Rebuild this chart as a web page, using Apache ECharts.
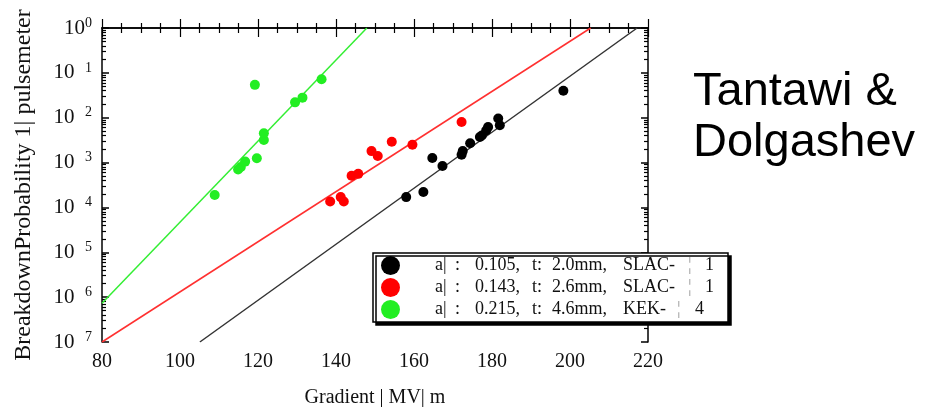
<!DOCTYPE html>
<html>
<head>
<meta charset="utf-8">
<script src="https://cdn.jsdelivr.net/npm/echarts@6/dist/echarts.min.js"></script>
<style>html,body{margin:0;padding:0;background:#fff}#c{width:938px;height:407px}</style>
</head>
<body>
<div id="c"></div>
<script>
// ---- data ----
const seriesNames = [
  'a| : 0.105, t: 2.0mm, SLAC- ¦ 1',
  'a| : 0.143, t: 2.6mm, SLAC- ¦ 1',
  'a| : 0.215, t: 4.6mm, KEK- ¦ 4'
];
const blackPoints = [
  [158.0, 1.7e-4], [162.4, 2.2e-4], [164.7, 1.26e-3], [167.3, 8.4e-4],
  [172.2, 1.5e-3], [172.5, 1.8e-3], [174.4, 2.7e-3], [176.9, 3.7e-3],
  [177.4, 4.0e-3], [178.5, 5.2e-3], [179.0, 6.2e-3], [181.6, 9.6e-3],
  [182.0, 6.8e-3], [198.3, 4.0e-2]
];
const redPoints = [
  [138.5, 1.35e-4], [141.2, 1.7e-4], [142.0, 1.35e-4], [144.0, 5.1e-4],
  [145.7, 5.6e-4], [149.1, 1.8e-3], [150.7, 1.4e-3], [154.3, 2.9e-3],
  [159.6, 2.5e-3], [172.2, 8.0e-3]
];
const greenPoints = [
  [108.9, 1.9e-4], [114.9, 7.0e-4], [115.6, 8.0e-4], [116.7, 1.05e-3],
  [119.2, 5.4e-2], [119.7, 1.25e-3], [121.5, 3.2e-3], [121.5, 4.5e-3],
  [129.5, 2.2e-2], [131.4, 2.8e-2], [136.3, 7.2e-2]
];
const blackFit = [[105.1, 1e-7], [217.2, 1]];
const redFit = [[80, 1e-7], [205.3, 1]];
const greenFit = [[80, 7.3e-7], [147.9, 1]];
const xTicks = [80, 100, 120, 140, 160, 180, 200, 220];
const decadeExps = [0, 1, 2, 3, 4, 5, 6, 7];
const minorMultipliers = [2, 3, 4, 5, 6, 7, 8, 9];

// minor log ticks expressed on a linear log10 axis
const minorLogTicks = [];
for (let e = -7; e < 0; e++) {
  minorMultipliers.forEach(m => minorLogTicks.push(Math.log10(m) + e));
}

const serif = '"Liberation Serif","DejaVu Serif",serif';
const chart = echarts.init(document.getElementById('c'), null, {renderer: 'canvas'});

const axisLine = {show: true, lineStyle: {color: '#000', width: 1.5}};
function xAx(pos, labels) {
  return {
    type: 'value', position: pos, min: 80, max: 220, interval: 20,
    axisLine: axisLine, splitLine: {show: false},
    axisTick: {show: true, inside: true, length: 9, lineStyle: {color: '#000', width: 1.2}},
    minorTick: {show: true, splitNumber: 4, length: 5, lineStyle: {color: '#000', width: 1.2}},
    axisLabel: labels ? {show: true, margin: 10, fontFamily: serif, fontSize: 20, color: '#111',
      customValues: xTicks} : {show: false},
    name: labels ? 'Gradient | MV| m' : '', nameLocation: 'middle', nameGap: 46,
    nameTextStyle: {fontFamily: serif, fontSize: 20, color: '#111'}
  };
}
function yMajor(pos, labels) {
  return {
    type: 'log', logBase: 10, position: pos, min: 1e-7, max: 1, interval: 1,
    axisLine: axisLine, splitLine: {show: false},
    axisTick: {show: true, inside: true, length: 7, lineStyle: {color: '#000', width: 1.5}},
    axisLabel: labels ? {
      show: true, margin: 10,
      formatter: function (v) {
        const e = Math.round(-Math.log10(v));
        if (decadeExps.indexOf(e) < 0) return '';
        return e === 0 ? '{b|10}{s|0}' : '{b|10}{s|   ' + e + '}';
      },
      rich: {
        b: {fontFamily: serif, fontSize: 21, color: '#111'},
        s: {fontFamily: serif, fontSize: 14, color: '#111', verticalAlign: 'top', padding: [0, 0, 10, 0]}
      }
    } : {show: false},
    name: labels ? 'BreakdownProbability 1| pulsemeter' : '',
    nameLocation: 'middle', nameGap: 66,
    nameTextStyle: {fontFamily: serif, fontSize: 24, color: '#111'}
  };
}
function yMinor(pos) {
  return {
    type: 'value', position: pos, min: -7, max: 0,
    axisLine: {show: false}, splitLine: {show: false}, axisLabel: {show: false},
    axisTick: {show: true, inside: true, length: 4, customValues: minorLogTicks,
      lineStyle: {color: '#000', width: 1.2}}
  };
}

// legend text laid out in columns like the reference
const colWidths = [20, 20, 57, 20, 71, 65, 17, 12];
function legendFormatter(name) {
  const parts = name.split(' ');
  return parts.map((p, i) => {
    let key = 'c' + i;
    if (p === 'KEK-') key = 'k5';
    if (p === '¦' && name.indexOf('KEK') >= 0) key = 'k6';
    return '{' + key + '|' + p + '}';
  }).join('');
}
const legendRich = {};
colWidths.forEach((w, i) => {
  legendRich['c' + i] = {width: w, fontFamily: serif, fontSize: 18,
    color: (i === 6) ? '#999' : '#111'};
});
legendRich.k5 = {width: 54, fontFamily: serif, fontSize: 18, color: '#111'};
legendRich.k6 = {width: 18, fontFamily: serif, fontSize: 18, color: '#999'};

chart.setOption({
  animation: false,
  backgroundColor: '#fff',
  grid: {left: 102, right: 290, top: 28, bottom: 65, containLabel: false, outerBoundsMode: 'none'},
  xAxis: [xAx('bottom', true), xAx('top', false)],
  yAxis: [yMajor('left', true), yMajor('right', false), yMinor('left'), yMinor('right')],
  legend: {
    data: seriesNames,
    orient: 'vertical', left: 373, top: 253,
    itemWidth: 19, itemHeight: 19, itemGap: 3,
    padding: [3, 14, 3, 8],
    icon: 'circle',
    backgroundColor: '#fff', borderColor: '#000', borderWidth: 1.5,
    shadowColor: '#000', shadowBlur: 0, shadowOffsetX: 3, shadowOffsetY: 3,
    formatter: legendFormatter,
    textStyle: {fontFamily: serif, fontSize: 18, color: '#111', padding: [0, 0, 0, 30], rich: legendRich}
  },
  graphic: [
    {type: 'text', left: 693, top: 69, style: {text: 'Tantawi &', font: '47px "Liberation Sans", Arial, sans-serif', fill: '#000'}},
    {type: 'text', left: 693, top: 120, style: {text: 'Dolgashev', font: '47px "Liberation Sans", Arial, sans-serif', fill: '#000'}}
  ],
  series: [
    {name: 'fitBlack', type: 'line', data: blackFit, symbol: 'none', clip: true,
      lineStyle: {color: '#333', width: 1.5}, z: 2},
    {name: 'fitRed', type: 'line', data: redFit, symbol: 'none', clip: true,
      lineStyle: {color: '#ff3030', width: 1.5}, z: 2},
    {name: 'fitGreen', type: 'line', data: greenFit, symbol: 'none', clip: true,
      lineStyle: {color: '#33ee33', width: 1.5}, z: 2},
    {name: seriesNames[0], type: 'scatter', data: blackPoints, symbolSize: 10,
      itemStyle: {color: '#000', opacity: 1}, z: 3},
    {name: seriesNames[1], type: 'scatter', data: redPoints, symbolSize: 10,
      itemStyle: {color: '#ff0000', opacity: 1}, z: 3},
    {name: seriesNames[2], type: 'scatter', data: greenPoints, symbolSize: 10,
      itemStyle: {color: '#22ee22', opacity: 1}, z: 3}
  ]
});
</script>
</body>
</html>
